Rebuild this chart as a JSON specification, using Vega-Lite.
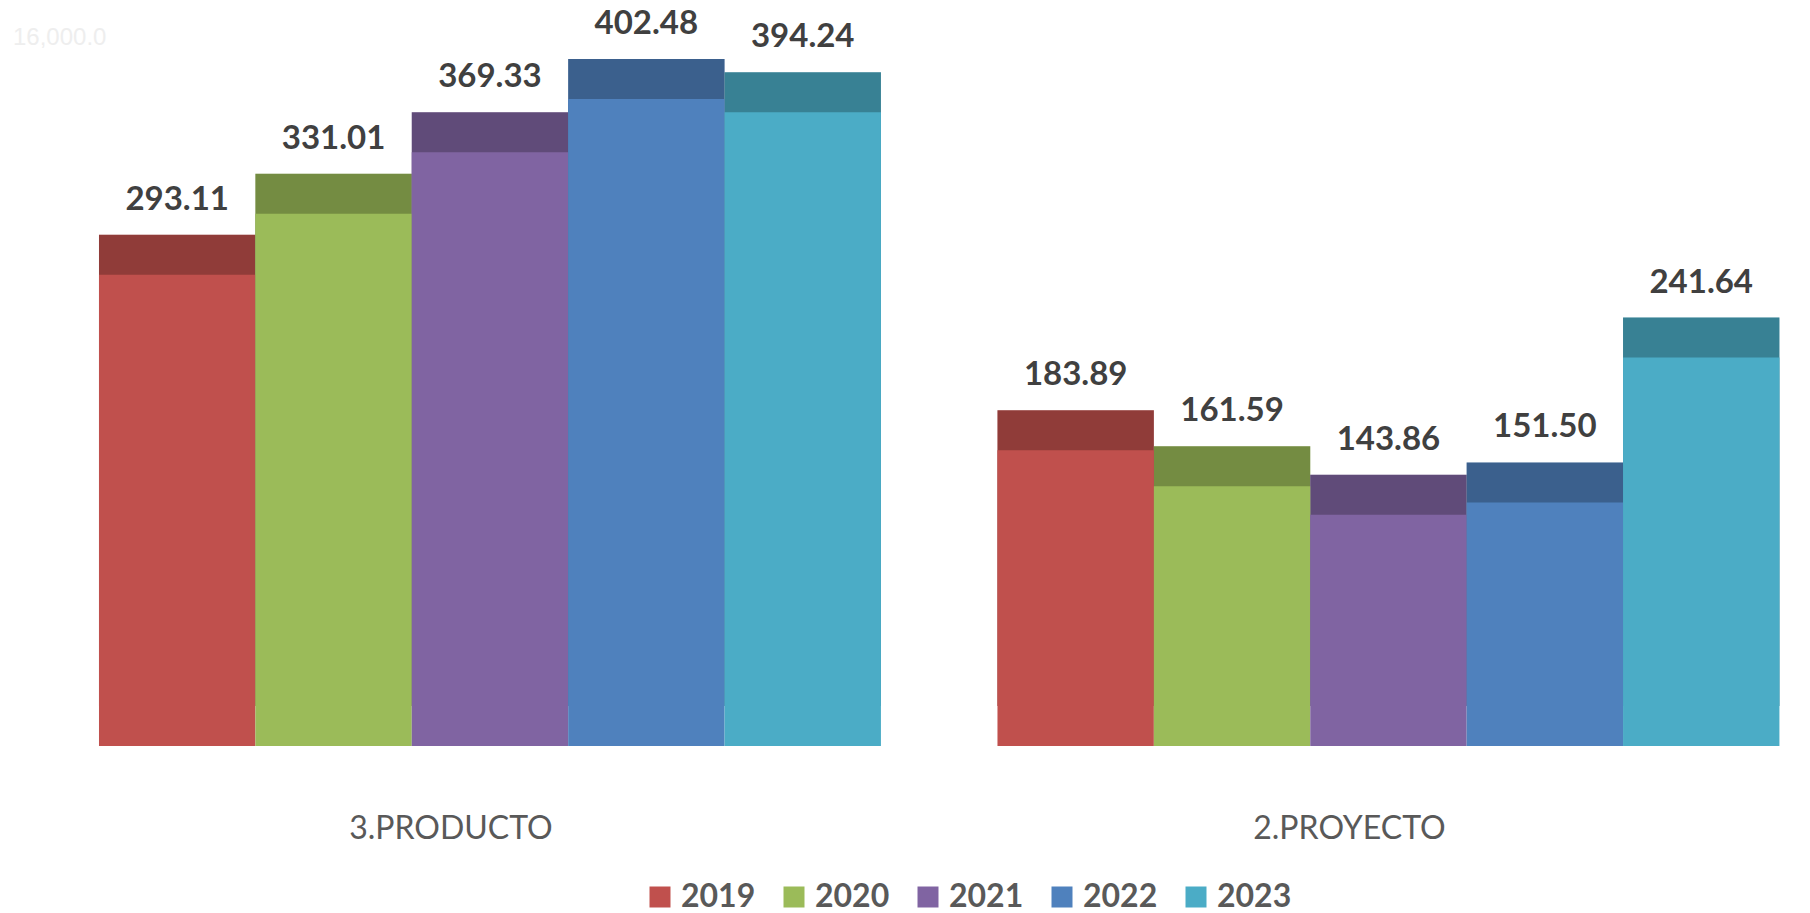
{
  "$schema": "https://vega.github.io/schema/vega-lite/v6.json",
  "width": 1810,
  "height": 746,
  "autosize": {"type": "none"},
  "padding": {"left": 0, "top": 0, "right": 0, "bottom": 167},
  "background": "white",
  "title": {
    "text": "16,000.0",
    "anchor": "start",
    "frame": "group",
    "orient": "top",
    "offset": -62,
    "baseline": "middle",
    "dx": 13,
    "font": "Liberation Sans",
    "fontSize": 24,
    "fontWeight": "normal",
    "color": "#eeeeee"
  },
  "data": {
    "values": [
      {"category": "3.PRODUCTO", "year": "2019", "value": 293.11},
      {"category": "3.PRODUCTO", "year": "2020", "value": 331.01},
      {"category": "3.PRODUCTO", "year": "2021", "value": 369.33},
      {"category": "3.PRODUCTO", "year": "2022", "value": 402.48},
      {"category": "3.PRODUCTO", "year": "2023", "value": 394.24},
      {"category": "2.PROYECTO", "year": "2019", "value": 183.89},
      {"category": "2.PROYECTO", "year": "2020", "value": 161.59},
      {"category": "2.PROYECTO", "year": "2021", "value": 143.86},
      {"category": "2.PROYECTO", "year": "2022", "value": 151.50},
      {"category": "2.PROYECTO", "year": "2023", "value": 241.64}
    ]
  },
  "encoding": {
    "x": {
      "field": "category",
      "type": "nominal",
      "sort": ["3.PRODUCTO", "2.PROYECTO"],
      "scale": {"paddingInner": 0.1297, "paddingOuter": 0.0721, "align": 0.764},
      "axis": {
        "title": null,
        "labelAngle": 0,
        "domain": false,
        "ticks": false,
        "tickSize": 0,
        "labelPadding": 67,
        "labelOffset": -39,
        "labelLimit": 600,
        "labelFont": "Lato",
        "labelFontSize": 32,
        "labelFontWeight": "normal",
        "labelColor": "#595959"
      }
    },
    "xOffset": {
      "field": "year",
      "type": "nominal",
      "scale": {"paddingInner": 0, "paddingOuter": 0}
    },
    "y": {
      "field": "value",
      "type": "quantitative",
      "scale": {"domain": [0, 464], "nice": false, "zero": true},
      "axis": null
    },
    "color": {
      "field": "year",
      "type": "nominal",
      "scale": {
        "domain": ["2019", "2020", "2021", "2022", "2023"],
        "range": ["#C0504D", "#9BBB59", "#8064A2", "#4F81BD", "#4BACC6"]
      },
      "legend": {
        "title": null,
        "orient": "none",
        "legendX": 644,
        "legendY": 881,
        "direction": "horizontal",
        "symbolType": "square",
        "symbolSize": 441,
        "symbolStrokeWidth": 0,
        "labelFont": "Lato",
        "labelFontSize": 32,
        "labelFontWeight": "bold",
        "labelColor": "#595959",
        "labelOffset": 5,
        "columnPadding": 22,
        "padding": 0
      }
    }
  },
  "layer": [
    {
      "mark": {"type": "bar", "yOffset": -40, "y2Offset": -40},
      "encoding": {
        "x": {
          "field": "category",
          "type": "nominal",
          "sort": ["3.PRODUCTO", "2.PROYECTO"],
          "bandPosition": 0.055
        }
      }
    },
    {
      "mark": {"type": "bar", "yOffset": -40, "y2Offset": -40, "color": "black", "opacity": 0.25},
      "encoding": {
        "color": {"value": "black"},
        "x": {
          "field": "category",
          "type": "nominal",
          "sort": ["3.PRODUCTO", "2.PROYECTO"],
          "bandPosition": 0.055
        }
      }
    },
    {
      "mark": {"type": "bar"}
    },
    {
      "mark": {
        "type": "text",
        "baseline": "middle",
        "align": "center",
        "dy": -75,
        "font": "Lato",
        "fontSize": 33,
        "fontWeight": "bold",
        "color": "#404040"
      },
      "encoding": {
        "text": {"field": "value", "type": "quantitative", "format": ".2f"},
        "color": {"value": "#404040"}
      }
    }
  ],
  "config": {
    "view": {"stroke": null}
  }
}
